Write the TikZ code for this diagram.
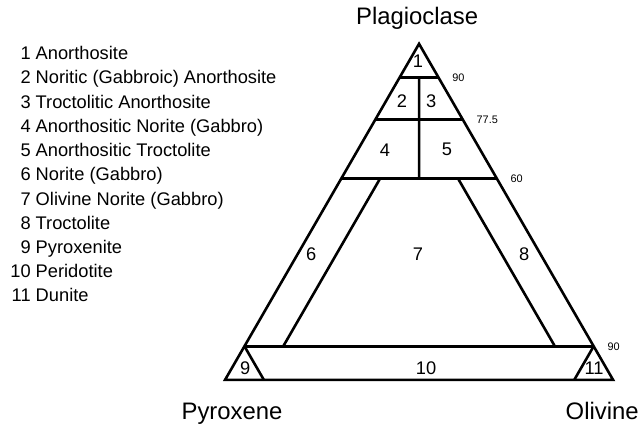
\documentclass[tikz,border=0pt]{standalone}
\usepackage{fontspec}
\setmainfont{Liberation Sans}
\usepackage{tikz}
\usetikzlibrary{calc}
\tikzset{
  every picture/.style={font=\fontsize{13.4}{16}\selectfont},
  borde/.style={line width=1.9pt},
  campo/.style={inner sep=0pt},
  vertice/.style={font=\fontsize{17.5}{20}\selectfont, inner sep=0pt, anchor=base},
  marca/.style={font=\fontsize{8}{9}\selectfont, anchor=west, inner sep=0pt, xshift=10pt},
  leyenda/.style={anchor=base west, inner sep=0pt},
}
\begin{document}
\begin{tikzpicture}
  \useasboundingbox (-5.80,-1.263) rectangle (10.72,9.79);
  \coordinate (px) at (0,0);
  \coordinate (ol) at (10,0);
  \coordinate (pl) at (5,8.66);
  \draw[borde] (px) -- (pl) -- (ol) -- cycle;
  \foreach \p/\nm/\t in {0.9/a/90, 0.775/b/77.5, 0.6/c/60, 0.1/d/90} {
    \coordinate (iz\nm) at ($(px)!\p!(pl)$);
    \coordinate (de\nm) at ($(ol)!\p!(pl)$);
    \draw[borde] (iz\nm) -- (de\nm);
    \node[marca] (t\nm) at (de\nm) {\t};
  }
  \draw[borde] ($(iza)!0.5!(dea)$) -- ($(izc)!0.5!(dec)$);
  \draw[borde] (barycentric cs:pl=0.6,px=0.3,ol=0.1) -- (barycentric cs:pl=0.1,px=0.8,ol=0.1);
  \draw[borde] (barycentric cs:pl=0.6,px=0.1,ol=0.3) -- (barycentric cs:pl=0.1,px=0.1,ol=0.8);
  \draw[borde] (izd) -- (barycentric cs:px=0.9,ol=0.1);
  \draw[borde] (ded) -- (barycentric cs:px=0.1,ol=0.9);

  \foreach \n/\x/\y in {1/4.97/8.20, 2/4.56/7.19, 3/5.31/7.19, 4/4.12/5.93, 5/5.72/5.93,
      6/2.22/3.25, 7/4.97/3.25, 8/7.71/3.25, 9/0.52/0.31, 10/5.18/0.31, 11/9.51/0.31}
    \node[campo] (c\n) at (\x,\y) {\n};

  \node[vertice] (vpl) at (4.95,9.15) {Plagioclase};
  \node[vertice] (vpx) at (0.18,-1.03) {Pyroxene};
  \node[vertice] (vol) at (9.72,-1.03) {Olivine};

  \foreach \n/\nombre [count=\i from 0] in {1/Anorthosite, 2/Noritic (Gabbroic) Anorthosite,
      3/Troctolitic Anorthosite, 4/Anorthositic Norite (Gabbro), 5/Anorthositic Troctolite,
      6/Norite (Gabbro), 7/Olivine Norite (Gabbro), 8/Troctolite, 9/Pyroxenite,
      10/Peridotite, 11/Dunite}
    \node[leyenda] (l\n) at (-5.54,8.25-0.624*\i) {\makebox[1.112em][r]{\n}\ \nombre};
\end{tikzpicture}
\end{document}
